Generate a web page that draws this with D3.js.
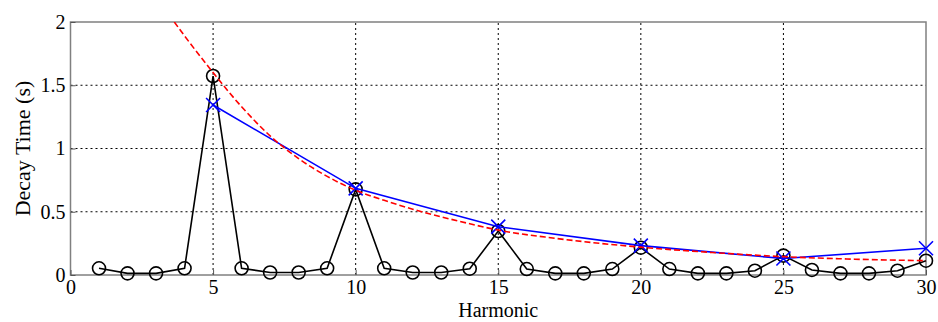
<!DOCTYPE html>
<html>
<head>
<meta charset="utf-8">
<script src="https://cdn.jsdelivr.net/npm/d3@7"></script>
<style>
  html, body { margin: 0; padding: 0; background: #fff; }
  svg { display: block; }
</style>
</head>
<body>
<svg id="chart" width="938" height="322"></svg>
<script>
// harmonic number vs measured decay time (black circles)
const harmonics = d3.range(1, 31);
const decayMeasured = [
  0.053, 0.013, 0.013, 0.053, 1.573, 0.053, 0.02, 0.02, 0.053, 0.677,
  0.053, 0.02, 0.02, 0.05, 0.348, 0.047, 0.013, 0.013, 0.047, 0.216,
  0.047, 0.013, 0.013, 0.034, 0.153, 0.04, 0.013, 0.013, 0.034, 0.113
];

// every fifth harmonic (blue crosses)
const peakHarmonics = [5, 10, 15, 20, 25, 30];
const decayPeaks = [1.344, 0.685, 0.382, 0.232, 0.13, 0.211];

// fitted curve (red dashed)
const fitHarmonics = [3.64, 4, 5, 6, 7, 8, 9, 10, 11, 12, 13, 14, 15, 17, 20, 22.5, 25, 27.5, 30];
const fitDecay = [2.0, 1.89, 1.6, 1.33, 1.1, 0.92, 0.78, 0.67, 0.59, 0.52, 0.46, 0.405, 0.355, 0.29, 0.22, 0.178, 0.145, 0.125, 0.113];

const xTicks = [0, 5, 10, 15, 20, 25, 30];
const yTicks = [0, 0.5, 1, 1.5, 2];

const serif = '"Liberation Serif", "Times New Roman", serif';
const margin = { top: 22, right: 12, bottom: 47, left: 70.5 };
const width = 938, height = 322;
const svg = d3.select('#chart');

const x = d3.scaleLinear().domain([0, 30]).range([margin.left, width - margin.right]);
const y = d3.scaleLinear().domain([0, 2]).range([height - margin.bottom, margin.top]);

const plot = svg.append('g');

// grid
plot.append('g')
  .selectAll('line')
  .data(xTicks.slice(1, -1))
  .join('line')
  .attr('x1', d => x(d)).attr('x2', d => x(d))
  .attr('y1', y(0)).attr('y2', y(2))
  .attr('stroke', '#000').attr('stroke-width', 1)
  .attr('stroke-dasharray', '2,3');

plot.append('g')
  .selectAll('line')
  .data(yTicks.slice(1, -1))
  .join('line')
  .attr('x1', x(0)).attr('x2', x(30))
  .attr('y1', d => y(d)).attr('y2', d => y(d))
  .attr('stroke', '#000').attr('stroke-width', 1)
  .attr('stroke-dasharray', '2,3');

// frame
plot.append('rect')
  .attr('x', x(0)).attr('y', y(2))
  .attr('width', x(30) - x(0)).attr('height', y(0) - y(2))
  .attr('fill', 'none').attr('stroke', '#808080').attr('stroke-width', 1.5);

// axes (tick labels only, ticks inside)
const xAxis = svg.append('g')
  .attr('transform', `translate(0,${y(0)})`)
  .call(d3.axisBottom(x).tickValues(xTicks).tickSize(-5).tickPadding(5).tickFormat(d3.format('d')));
xAxis.select('.domain').remove();
xAxis.selectAll('.tick line').attr('stroke', '#555');

const yAxis = svg.append('g')
  .attr('transform', `translate(${x(0)},0)`)
  .call(d3.axisLeft(y).tickValues(yTicks).tickSize(-5).tickPadding(5).tickFormat(d => d));
yAxis.select('.domain').remove();
yAxis.selectAll('.tick line').attr('stroke', '#555');

svg.selectAll('.tick text')
  .style('font-family', serif)
  .style('font-size', '20px')
  .attr('fill', '#000');

// axis labels
svg.append('text')
  .attr('x', (x(0) + x(30)) / 2).attr('y', 317)
  .attr('text-anchor', 'middle')
  .style('font-family', serif)
  .style('font-size', '20px')
  .text('Harmonic');

svg.append('text')
  .attr('transform', `translate(30,${(y(0) + y(2)) / 2}) rotate(-90)`)
  .attr('text-anchor', 'middle')
  .style('font-family', serif)
  .style('font-size', '22px')
  .text('Decay Time (s)');

svg.append('clipPath').attr('id', 'clip')
  .append('rect')
  .attr('x', x(0)).attr('y', y(2))
  .attr('width', x(30) - x(0)).attr('height', y(0) - y(2));

const line = d3.line().x(d => x(d[0])).y(d => y(d[1]));

// black measured series
const measured = harmonics.map((h, i) => [h, decayMeasured[i]]);
svg.append('path')
  .datum(measured)
  .attr('d', line)
  .attr('fill', 'none').attr('stroke', '#000').attr('stroke-width', 1.6);

svg.append('g')
  .selectAll('circle')
  .data(measured)
  .join('circle')
  .attr('cx', d => x(d[0])).attr('cy', d => y(d[1]))
  .attr('r', 6.5)
  .attr('fill', 'none').attr('stroke', '#000').attr('stroke-width', 1.6);

// blue peaks
const peaks = peakHarmonics.map((h, i) => [h, decayPeaks[i]]);
svg.append('path')
  .datum(peaks)
  .attr('d', line)
  .attr('fill', 'none').attr('stroke', '#0000ff').attr('stroke-width', 1.6);

const s = 7;
svg.append('g')
  .selectAll('path')
  .data(peaks)
  .join('path')
  .attr('d', d => {
    const cx = x(d[0]), cy = y(d[1]);
    return `M${cx - s},${cy - s}L${cx + s},${cy + s}M${cx - s},${cy + s}L${cx + s},${cy - s}`;
  })
  .attr('stroke', '#0000ff').attr('stroke-width', 1.6).attr('fill', 'none');

// red dashed fit
const fit = fitHarmonics.map((h, i) => [h, fitDecay[i]]);
svg.append('path')
  .datum(fit)
  .attr('clip-path', 'url(#clip)')
  .attr('d', d3.line().x(d => x(d[0])).y(d => y(d[1])).curve(d3.curveMonotoneX))
  .attr('fill', 'none').attr('stroke', '#ff0000').attr('stroke-width', 1.6)
  .attr('stroke-dasharray', '6,3');
</script>
</body>
</html>
